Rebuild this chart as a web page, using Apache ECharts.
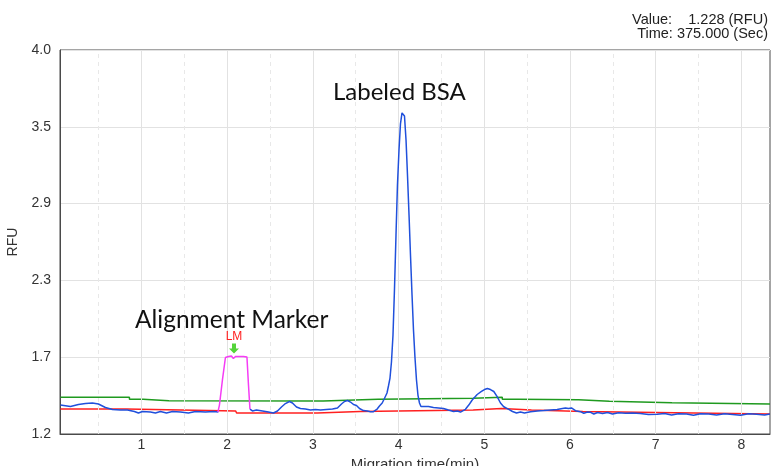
<!DOCTYPE html>
<html>
<head>
<meta charset="utf-8">
<script src="https://cdn.jsdelivr.net/npm/echarts@6/dist/echarts.min.js"></script>
<style>html,body{margin:0;padding:0;background:#fff}#c{width:771px;height:466px}</style>
</head>
<body>
<div id="c"></div>
<script>
// ---- data (time in min, signal in RFU) ----
const xTickValues = [1, 2, 3, 4, 5, 6, 7, 8];
const xSolidGrid = [1, 2, 3, 4, 5, 6, 7, 8];
const xDashedGrid = [0.5, 1.5, 2.5, 3.5, 4.5, 5.5, 6.5, 7.5];
const yTickLabels = ["1.2", "1.7", "2.3", "2.9", "3.5", "4.0"];

const blueTime = [0.055,0.172,0.265,0.347,0.428,0.498,0.580,0.662,0.755,0.837,0.918,0.965,1.012,1.105,1.163,1.222,1.292,1.362,1.455,1.548,1.630,1.747,1.840,1.898,
  2.000,
  2.266,2.295,2.342,2.412,2.482,2.540,2.587,2.634,2.680,2.727,2.762,2.809,2.855,2.914,2.972,3.030,3.089,3.158,3.229,3.287,3.334,3.369,3.404,3.439,3.474,3.509,3.544,3.590,3.637,3.672,
  3.707,3.750,3.777,3.809,3.835,3.865,3.882,3.900,3.917,3.935,3.952,3.970,3.987,4.005,4.022,4.040,4.054,4.069,4.087,4.104,4.122,4.139,4.157,4.174,4.191,4.209,4.226,4.244,4.261,
  4.302,4.349,4.407,4.466,4.524,4.582,4.641,4.687,4.722,4.780,4.819,4.859,4.917,4.967,5.002,5.037,5.072,5.111,5.150,5.189,5.227,5.286,5.329,5.376,5.422,5.469,5.539,5.620,5.694,5.772,5.850,5.912,
  5.947,5.982,6.017,6.064,6.122,6.161,6.204,6.240,6.278,6.321,6.380,6.438,6.496,6.566,6.647,6.729,6.822,6.915,7.018,7.103,7.185,7.267,7.360,7.441,7.523,7.617,7.710,7.803,7.897,7.990,8.083,8.177,8.270,8.333];
const blueRFU = [1.411,1.400,1.415,1.422,1.426,1.419,1.393,1.379,1.375,1.375,1.364,1.353,1.364,1.360,1.353,1.364,1.353,1.364,1.360,1.353,1.364,1.360,1.364,1.360,
  null,
  1.382,1.368,1.375,1.368,1.360,1.353,1.368,1.397,1.422,1.437,1.426,1.397,1.386,1.382,1.375,1.379,1.375,1.379,1.382,1.390,1.419,1.437,1.444,1.433,1.415,1.408,1.386,1.371,1.368,1.363,
  1.363,1.382,1.404,1.426,1.459,1.499,1.550,1.608,1.725,1.922,2.250,2.651,3.016,3.271,3.461,3.541,3.543,3.519,3.344,3.089,2.797,2.505,2.214,1.958,1.761,1.594,1.484,1.426,1.401,
  1.401,1.401,1.393,1.390,1.386,1.375,1.364,1.368,1.360,1.380,1.411,1.448,1.488,1.510,1.524,1.532,1.524,1.510,1.473,1.426,1.399,1.380,1.364,1.353,1.360,1.353,1.363,1.368,1.371,1.375,1.379,1.386,
  1.390,1.386,1.390,1.370,1.363,1.351,1.360,1.358,1.346,1.357,1.349,1.357,1.346,1.355,1.351,1.353,1.349,1.342,1.344,1.349,1.339,1.348,1.346,1.336,1.347,1.346,1.339,1.347,1.342,1.336,1.347,1.344,1.339,1.346];

const markerTime = [1.892,1.910,1.945,1.980,2.015,2.050,2.073,2.097,2.120,2.143,2.190,2.231,2.249,2.266];
const markerRFU  = [1.360,1.411,1.594,1.758,1.765,1.769,1.751,1.765,1.751,1.765,1.765,1.761,1.557,1.382];

const baselineTime = [0.055,0.82,0.83,2.10,2.11,3.05,3.07,3.55,3.57,4.87,4.88,5.20,5.21,5.55,5.56,6.15,6.16,7.00,7.01,8.333];
const baselineRFU  = [1.382,1.382,1.368,1.368,1.353,1.353,1.364,1.364,1.375,1.375,1.386,1.386,1.375,1.375,1.364,1.364,1.357,1.357,1.346,1.346];

const thresholdTime = [0.055,0.86,0.86,1.02,1.02,1.32,1.32,3.12,3.12,3.76,3.76,4.87,4.87,5.21,5.21,5.39,5.39,6.10,6.10,6.46,6.46,7.19,7.19,8.333];
const thresholdRFU  = [1.468,1.468,1.453,1.453,1.443,1.443,1.440,1.440,1.453,1.453,1.460,1.460,1.468,1.468,1.453,1.453,1.450,1.450,1.438,1.438,1.428,1.428,1.419,1.419];

const lmTime = 2.08, lmRFU = 1.765;

function pairs(xs, ys) { return xs.map((x, i) => [x, ys[i]]); }

const chart = echarts.init(document.getElementById('c'), null, {renderer: 'canvas'});
const gridColor = '#e2e2e2';
const txt = '#333';
const font = 'Liberation Sans, Arial, sans-serif';

chart.setOption({
  backgroundColor: '#fff',
  animation: false,
  grid: {left: 60, right: 1, top: 50, bottom: 32, show: true, borderColor: '#4a4a4a', borderWidth: 1, backgroundColor: '#fff',
    outerBoundsMode: 'none', containLabel: false},
  xAxis: {
    type: 'value', min: 0.05, max: 8.3333,
    axisLine: {show: true, lineStyle: {color: '#4a4a4a'}},
    axisTick: {show: false},
    splitLine: {show: false},
    axisLabel: {customValues: xTickValues, color: txt, fontSize: 14, fontFamily: font, margin: 4, formatter: v => String(v)},
    name: 'Migration time(min)', nameLocation: 'middle', nameGap: 16,
    nameTextStyle: {color: txt, fontSize: 15, fontFamily: font}
  },
  yAxis: [
    {
      type: 'value', min: 0, max: 5, interval: 1,
      axisLine: {show: true, lineStyle: {color: '#4a4a4a'}},
      axisTick: {show: false},
      splitLine: {show: true, lineStyle: {color: gridColor, width: 1}},
      axisLabel: {color: txt, fontSize: 14, fontFamily: font, margin: 9, padding: [0, 0, 8, 0],
        formatter: (v) => yTickLabels[Math.round(v)]},
      name: 'RFU', nameLocation: 'middle', nameGap: 29, nameRotate: 90,
      nameTextStyle: {color: txt, fontSize: 14, fontFamily: font}
    },
    {type: 'value', min: 1.2, max: 4.0, show: false}
  ],
  graphic: [
    {type: 'text', z: 100, right: 3, top: 12, style: {text: 'Value:    1.228 (RFU)', font: '14.5px ' + font, fill: '#222', textAlign: 'right'}},
    {type: 'text', z: 100, right: 3, top: 26, style: {text: 'Time: 375.000 (Sec)', font: '14.5px ' + font, fill: '#222', textAlign: 'right'}},
    {type: 'text', z: 100, left: 333, top: 80, style: {text: 'Labeled BSA', font: '24px Lato, "Open Sans", sans-serif', fill: '#111'}},
    {type: 'text', z: 100, left: 135, top: 308, style: {text: 'Alignment Marker', font: '24.5px Lato, "Open Sans", sans-serif', fill: '#111'}}
  ],
  series: [
    {
      type: 'line', yAxisIndex: 1, data: [], silent: true, z: 0,
      markLine: {
        silent: true, symbol: 'none', label: {show: false}, animation: false,
        data: xSolidGrid.map(x => ({xAxis: x, lineStyle: {color: gridColor, type: 'solid', width: 1}}))
          .concat(xDashedGrid.map(x => ({xAxis: x, lineStyle: {color: '#e8e8e8', type: [4, 4], width: 1}})))
      }
    },
    {type: 'line', name: 'threshold', yAxisIndex: 1, data: pairs(thresholdTime, thresholdRFU), showSymbol: false, lineStyle: {color: '#1f9a1f', width: 1.5}, z: 3},
    {type: 'line', name: 'baseline', yAxisIndex: 1, data: pairs(baselineTime, baselineRFU), showSymbol: false, lineStyle: {color: '#ff2020', width: 1.5}, z: 4},
    {type: 'line', name: 'signal', yAxisIndex: 1, data: pairs(blueTime, blueRFU), showSymbol: false, connectNulls: false, lineStyle: {color: '#2050dc', width: 1.5}, z: 5},
    {
      type: 'line', name: 'marker', yAxisIndex: 1, data: pairs(markerTime, markerRFU), showSymbol: false, lineStyle: {color: '#f53cf5', width: 1.5}, z: 6,
      markPoint: {
        silent: true, animation: false,
        data: [
          {coord: [lmTime, lmRFU], symbol: 'path://M3,0 L7,0 L7,5 L10,5 L5,10 L0,5 L3,5 Z', symbolSize: [10, 10], symbolOffset: [0, -8],
            itemStyle: {color: '#55d43a'}, label: {show: false}},
          {coord: [lmTime, lmRFU], symbol: 'rect', symbolSize: 1, itemStyle: {color: 'rgba(0,0,0,0)'},
            label: {show: true, formatter: 'LM', color: '#ff2020', fontSize: 12, fontFamily: font, position: 'inside', offset: [0, -20]}}
        ]
      }
    }
  ]
});
</script>
</body>
</html>
